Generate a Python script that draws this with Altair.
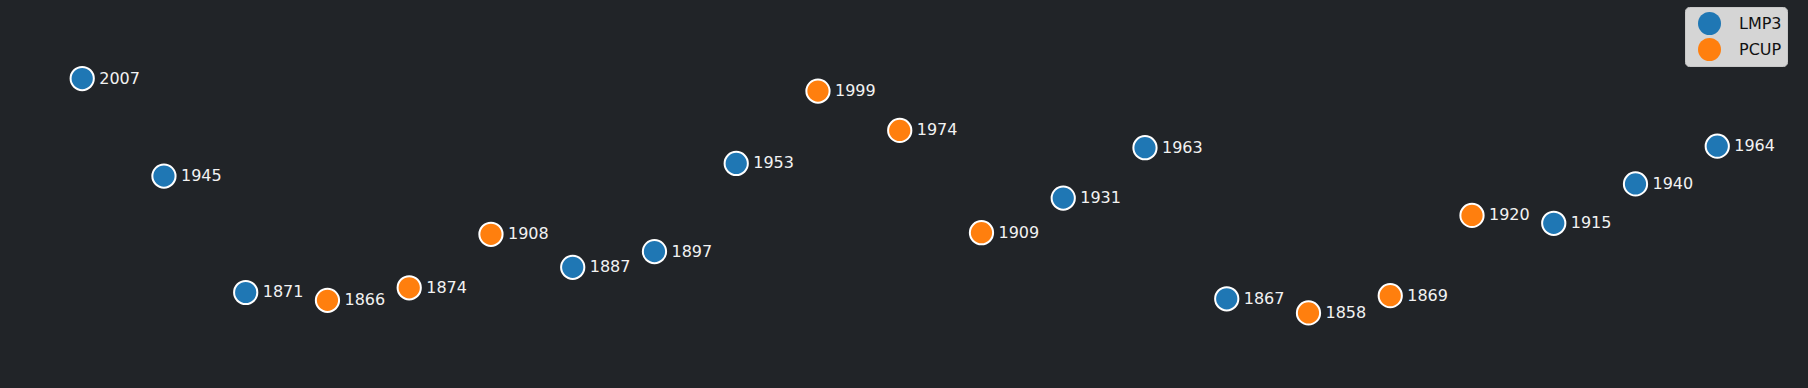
import altair as alt
import pandas as pd

years = [2007, 1945, 1871, 1866, 1874, 1908, 1887, 1897, 1953, 1999, 1974,
         1909, 1931, 1963, 1867, 1858, 1869, 1920, 1915, 1940, 1964]
groups = ["LMP3", "LMP3", "LMP3", "PCUP", "PCUP", "PCUP", "LMP3", "LMP3", "LMP3", "PCUP", "PCUP",
          "PCUP", "LMP3", "LMP3", "LMP3", "PCUP", "PCUP", "PCUP", "LMP3", "LMP3", "LMP3"]
labels = [str(y) for y in years]

df = pd.DataFrame({"idx": list(range(len(years))), "year": years, "group": groups, "label": labels})

xs = alt.Scale(domain=[-1.0055, 21.11], nice=False, zero=False)
ys = alt.Scale(domain=[1810.3, 2056.9], nice=False, zero=False)

base = alt.Chart(df).encode(
    x=alt.X("idx:Q", scale=xs, axis=None),
    y=alt.Y("year:Q", scale=ys, axis=None),
)

points = base.mark_point(filled=True, size=540, stroke="white", strokeWidth=2, opacity=1, shape="circle").encode(
    color=alt.Color("group:N",
                    scale=alt.Scale(domain=["LMP3", "PCUP"], range=["#1f77b4", "#ff7f0e"]),
                    legend=alt.Legend(title=None, orient="none", legendX=1685, legendY=7,
                                      fillColor="#d5d5d5", strokeColor="#c8c8c8", cornerRadius=4,
                                      padding=5, symbolSize=529, symbolStrokeWidth=0,
                                      symbolOffset=8, symbolType="circle", labelFontSize=16,
                                      labelColor="#111111", labelFont="DejaVu Sans",
                                      labelOffset=18, rowPadding=3, symbolOpacity=1))
)

text = base.mark_text(align="left", baseline="middle", dx=17, fontSize=16, font="DejaVu Sans",
                      color="#f2f2f2").encode(text="label:N")

chart = alt.layer(points, text).properties(
    width=1808, height=388, background="#212428", padding=0,
    autosize=alt.AutoSizeParams(type="none")
).configure_view(stroke=None)

chart.save("out.html", embed_options={"renderer": "svg", "actions": False})
